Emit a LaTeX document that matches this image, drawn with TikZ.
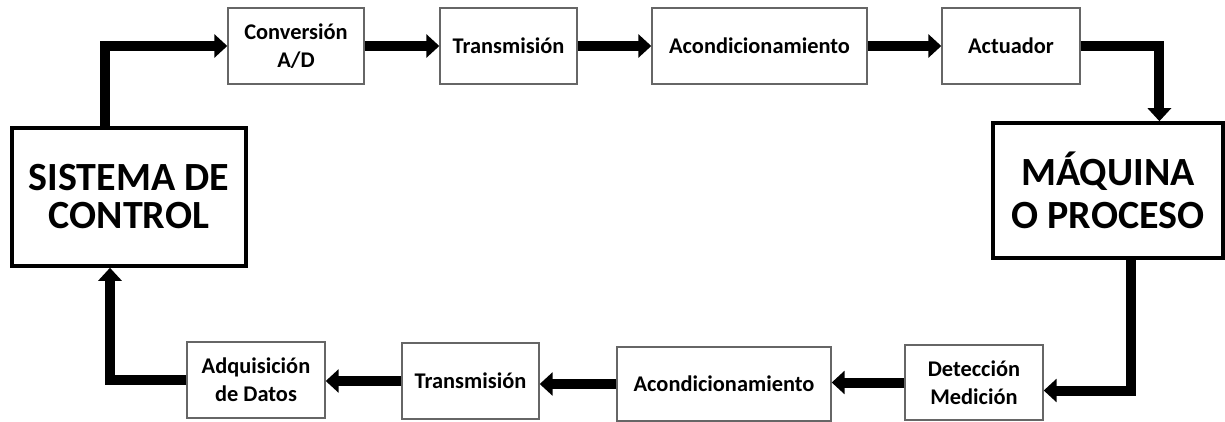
\documentclass[tikz,border=0pt]{standalone}
\usepackage{fontspec}
\setmainfont{Carlito}
\usetikzlibrary{arrows.meta,calc}
\begin{document}
\begin{tikzpicture}[line join=miter,x=0.5pt,y=-0.5pt,
		caja/.style={draw=black!60,line width=0.7pt,align=center,inner sep=0pt,minimum height=38pt,font=\bfseries\fontsize{11.2}{14}\selectfont},
		grande/.style={draw=black,line width=1.8pt,align=center,inner sep=0pt,font=\bfseries\fontsize{20}{19}\selectfont},
		flecha/.style={line width=5pt,-{Triangle[length=6.5pt,width=11.5pt]}}]
				\useasboundingbox (0,0) rectangle (1225,422);
				\node[caja,minimum width=68pt] (conv) at (296,46) {Conversión\\A/D};
				\node[caja,minimum width=68.5pt] (tra) at (508.5,46) {Transmisión};
				\node[caja,minimum width=107.5pt] (aco) at (759.5,46) {Acondicionamiento};
				\node[caja,minimum width=69pt] (act) at (1011,46) {Actuador};
				\node[grande,minimum width=117pt,minimum height=69pt] (sis) at (129,197) {SISTEMA DE\\CONTROL};
				\node[grande,minimum width=115pt,minimum height=67.5pt,font=\bfseries\fontsize{20}{21.5}\selectfont] (maq) at (1108,190.5) {MÁQUINA\\O PROCESO};
				\node[caja,minimum width=69pt] (adq) at (256,380) {Adquisición\\de Datos};
				\node[caja,minimum width=68.5pt] (tra2) at (470.5,381) {Transmisión};
				\node[caja,minimum width=107pt,minimum height=37pt] (aco2) at (724,384) {Acondicionamiento};
				\node[caja,minimum width=69pt,minimum height=37.5pt] (det) at (974,382.5) {Detección\\Medición};
				\draw[flecha] ($(sis.north west)!0.4!(sis.north east)$) |- (conv.west);
				\draw[flecha] (conv.east) -- (tra.west);
				\draw[flecha] (tra.east) -- (aco.west);
				\draw[flecha] (aco.east) -- (act.west);
				\draw[flecha] (act.east) -| ($(maq.north west)!0.72!(maq.north east)$);
				\draw[flecha] ($(maq.south west)!0.6!(maq.south east)$) |- ([yshift=-4pt]det.east);
				\draw[flecha] (det.west) -- (det.west -| aco2.east);
				\draw[flecha] (aco2.west) -- (aco2.west -| tra2.east);
				\draw[flecha] (tra2.west) -- (tra2.west -| adq.east);
				\draw[flecha] (adq.west) -| ($(sis.south west)!0.42!(sis.south east)$);
\end{tikzpicture}
\end{document}
